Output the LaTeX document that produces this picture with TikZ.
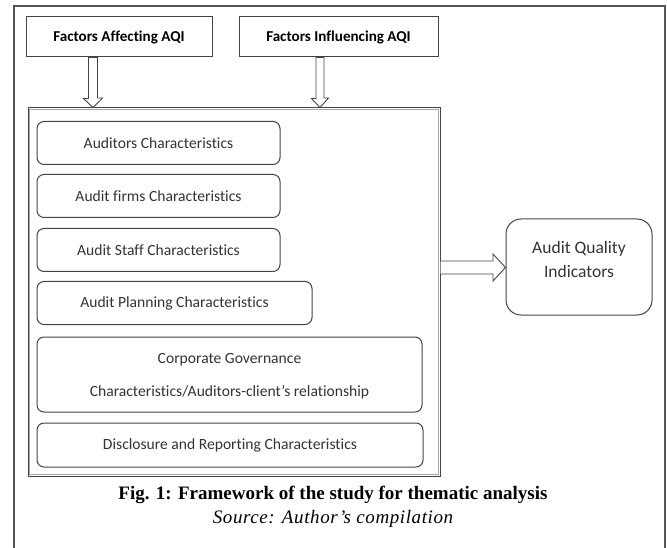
\documentclass[tikz,border=0pt]{standalone}
\usepackage{fontspec}
\setmainfont{Liberation Serif}
\newfontfamily\calibri[Ligatures={NoCommon}]{Carlito}
\usetikzlibrary{calc}
\definecolor{frame}{HTML}{555555}
\definecolor{boxline}{HTML}{444444}
\definecolor{txt}{HTML}{333333}
\tikzset{
  topbox/.style={draw=boxline, line width=1pt, inner sep=0pt, font=\calibri\bfseries\fontsize{15.1}{17}\selectfont, text=black},
  itembox/.style={draw=boxline, line width=1pt, rounded corners=7pt, inner sep=0pt, minimum width=243pt, minimum height=43pt, font=\calibri\fontsize{15.6}{24}\selectfont, text=txt, align=center},
  hollow/.style={draw=boxline, line width=0.9pt, fill=white, line join=miter},
}
\begin{document}
\begin{tikzpicture}[x=1pt,y=-1pt]
\useasboundingbox (0,0) rectangle (667,548);
% outer frame (open at bottom)
\draw[frame, line width=2pt] (14,548) -- (14,6) -- (665,6) -- (665,548);
% top boxes
\node[topbox, minimum width=186pt, minimum height=40pt] (b1) at (119,37) {Factors Affecting AQI};
\node[topbox, minimum width=199pt, minimum height=40pt] (b2) at (338.5,37) {Factors Influencing AQI};
% main box (double line)
\node[draw=boxline, line width=1pt, inner sep=0pt, minimum width=412pt, minimum height=368pt] (main) at (234,292) {};
\draw[gray!70, line width=0.8pt] ([shift={(2.2pt,-2.2pt)}]main.north west) rectangle ([shift={(-2.2pt,2.2pt)}]main.south east);
% items
\node[itembox] (i1) at (158.5,143) {Auditors Characteristics};
\node[itembox] (i2) at (158.5,196) {Audit firms Characteristics};
\node[itembox] (i3) at (158.5,250) {Audit Staff Characteristics};
\node[itembox, minimum width=275pt] (i4) at (174.5,303) {Audit Planning Characteristics};
\node[itembox, minimum width=385pt, minimum height=75pt, font=\calibri\fontsize{15.6}{33}\selectfont] (i5) at (229.5,374.5) {\rule{0pt}{14pt}Corporate Governance\\Characteristics/Auditors-client’s relationship};
\node[itembox, minimum width=386pt, minimum height=44pt] (i6) at (230,445) {Disclosure and Reporting Characteristics};
% AQI box
\node[draw=boxline, line width=1pt, rounded corners=15pt, minimum width=146pt, minimum height=96pt] (aqi) at (579,267) {};
\node[font=\calibri\fontsize{17.5}{24}\selectfont, text=txt, align=center] (aqit) at ([yshift=8pt]aqi.center) {Audit Quality\\Indicators};
% down arrows
\coordinate (a1) at ([xshift=-26pt]b1.south);
\coordinate (a2) at ([xshift=-18.5pt]b2.south);
\draw[hollow] ([xshift=-4.5pt]a1) -- ++(0,41) -- ++(-5,0) -- (a1 |- main.north) -- ([xshift=9.5pt]a1 |- 0,98) -- ([xshift=4.5pt]a1 |- 0,98) -- ([xshift=4.5pt]a1) -- cycle;
\draw[hollow] ([xshift=-4pt]a2) -- ++(0,41) -- ++(-4.5,0) -- (a2 |- main.north) -- ([xshift=8.5pt]a2 |- 0,98) -- ([xshift=4pt]a2 |- 0,98) -- ([xshift=4pt]a2) -- cycle;
% right arrow
\coordinate (r0) at (main.east |- 0,267.5);
\draw[hollow] ([yshift=6.5pt]r0) -- (493,261) -- (493,254) -- (aqi.west |- r0) -- (493,281) -- (493,274) -- ([yshift=-6.5pt]r0);
% caption
\node[font=\bfseries\fontsize{19}{21}\selectfont] (cap) at (333,495) {Fig. 1: Framework of the study for thematic analysis};
\node[font=\itshape\fontsize{19}{21}\selectfont\addfontfeatures{LetterSpace=3.2}] (src) at (333,519) {Source: Author's compilation};
\end{tikzpicture}
\end{document}
